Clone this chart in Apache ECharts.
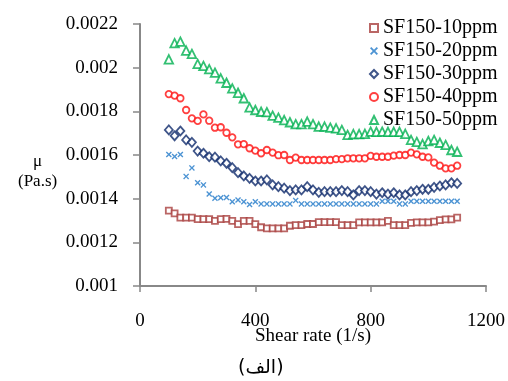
<!DOCTYPE html>
<html><head><meta charset="utf-8">
<script src="https://cdn.jsdelivr.net/npm/echarts@6/dist/echarts.min.js"></script>
<style>html,body{margin:0;padding:0;background:#fff}#c{width:508px;height:381px}</style>
</head><body><div id="c"></div>
<script>
const shearRate = [100,120,140,160,180,200,220,240,260,280,300,320,340,360,380,400,420,440,460,480,500,520,540,560,580,600,620,640,660,680,700,720,740,760,780,800,820,840,860,880,900,920,940,960,980,1000,1020,1040,1060,1080,1100];
const seriesNames = ['SF150-10ppm','SF150-20ppm','SF150-30ppm','SF150-40ppm','SF150-50ppm'];
const sf10 = [0.001345,0.001333,0.001313,0.001313,0.001313,0.001306,0.001306,0.001306,0.001298,0.001306,0.001307,0.001298,0.001283,0.001298,0.001298,0.001283,0.001269,0.001264,0.001264,0.001264,0.001264,0.001276,0.001279,0.001279,0.001284,0.001284,0.001293,0.001293,0.001293,0.001293,0.001279,0.001279,0.001279,0.001291,0.001291,0.001291,0.001291,0.001291,0.001298,0.001279,0.001279,0.001279,0.001289,0.001291,0.001291,0.001291,0.001295,0.001302,0.001305,0.001305,0.001313];
const sf20 = [0.001602,0.001593,0.001602,0.001502,0.001541,0.001473,0.001463,0.001421,0.001402,0.001404,0.001405,0.001386,0.001394,0.001386,0.001373,0.001386,0.001376,0.001376,0.001376,0.001376,0.001376,0.001376,0.001392,0.001376,0.001376,0.001376,0.001376,0.001376,0.001376,0.001376,0.001376,0.001376,0.001376,0.001376,0.001376,0.001376,0.001376,0.001388,0.001388,0.001388,0.001376,0.001376,0.001388,0.001388,0.001388,0.001388,0.001388,0.001388,0.001388,0.001388,0.001388];
const sf30 = [0.001715,0.001688,0.001710,0.001669,0.001658,0.001618,0.001608,0.001592,0.001590,0.001573,0.001562,0.001542,0.001519,0.001504,0.001493,0.001481,0.001481,0.001486,0.001463,0.001455,0.001448,0.001437,0.001440,0.001440,0.001455,0.001440,0.001429,0.001432,0.001432,0.001432,0.001437,0.001432,0.001417,0.001437,0.001437,0.001432,0.001421,0.001427,0.001421,0.001427,0.001417,0.001417,0.001432,0.001437,0.001443,0.001443,0.001452,0.001458,0.001463,0.001473,0.001470];
const sf40 = [0.001879,0.001872,0.001860,0.001806,0.001768,0.001756,0.001786,0.001757,0.001725,0.001727,0.001702,0.001681,0.001649,0.001650,0.001631,0.001620,0.001608,0.001623,0.001611,0.001599,0.001600,0.001577,0.001588,0.001577,0.001577,0.001577,0.001577,0.001577,0.001577,0.001581,0.001581,0.001585,0.001585,0.001585,0.001585,0.001596,0.001592,0.001592,0.001592,0.001597,0.001600,0.001600,0.001611,0.001603,0.001592,0.001589,0.001565,0.001551,0.001539,0.001539,0.001551];
const sf50 = [0.002038,0.002112,0.002119,0.002078,0.002063,0.002017,0.002008,0.001993,0.001977,0.001951,0.001931,0.001905,0.001885,0.001860,0.001818,0.001806,0.001798,0.001796,0.001780,0.001771,0.001760,0.001750,0.001741,0.001741,0.001753,0.001741,0.001730,0.001730,0.001725,0.001722,0.001715,0.001692,0.001696,0.001696,0.001697,0.001707,0.001706,0.001707,0.001706,0.001706,0.001706,0.001697,0.001669,0.001660,0.001650,0.001664,0.001669,0.001656,0.001646,0.001623,0.001615];
const xTicks = [0, 400, 800, 1200];
const yTicks = [0.001, 0.0012, 0.0014, 0.0016, 0.0018, 0.002, 0.0022];

const values = [sf10, sf20, sf30, sf40, sf50];
const colors = ['#a9403f', '#1f78c8', '#0f2a6b', '#ff1010', '#00b050'];
const symbols = ['rect', 'path://M0,1.6L1.6,0L5,3.4L8.4,0L10,1.6L6.6,5L10,8.4L8.4,10L5,6.6L1.6,10L0,8.4L3.4,5Z', 'diamond', 'circle', 'triangle'];
const sizes = [6, 6, [8, 9], 6.5, [8.5, 8.5]];
const hollow = [true, false, true, true, true];
const font = 'Liberation Serif';

const chart = echarts.init(document.getElementById('c'), null, {renderer: 'canvas'});
chart.setOption({
  animation: false,
  backgroundColor: '#fff',
  grid: {left: 140, right: 21, top: 24, bottom: 95, containLabel: false},
  xAxis: {
    type: 'value', min: xTicks[0], max: xTicks[xTicks.length - 1], interval: 400,
    name: 'Shear rate (1/s)', nameLocation: 'middle', nameGap: 41, nameMoveOverlap: false,
    nameTextStyle: {fontFamily: font, fontSize: 19, color: '#000', verticalAlign: 'top'},
    axisLine: {show: true, onZero: false, lineStyle: {color: '#888', width: 2}},
    axisTick: {show: true, length: 6, lineStyle: {color: '#888', width: 1.5}},
    axisLabel: {margin: 26, fontFamily: font, fontSize: 19, color: '#000',
      formatter: v => String(v)},
    splitLine: {show: false}
  },
  yAxis: {
    type: 'value', min: yTicks[0], max: yTicks[yTicks.length - 1], interval: 0.0002,
    axisLine: {show: true, onZero: false, lineStyle: {color: '#888', width: 2}},
    axisTick: {show: true, length: 7, lineStyle: {color: '#888', width: 1.5}},
    axisLabel: {margin: 22, fontFamily: font, fontSize: 19, color: '#000',
      formatter: v => String(+v.toFixed(5))},
    splitLine: {show: false}
  },
  legend: {
    orient: 'vertical', left: 364, top: 13, itemWidth: 8, itemHeight: 8, itemGap: 3,
    textStyle: {fontFamily: font, fontSize: 20, color: '#000', padding: [0, 0, 0, 0]},
    data: seriesNames
  },
  graphic: [
    {type: 'text', left: 18, top: 152, style: {text: 'μ\n(Pa.s)', font: '17px "Liberation Serif"', fill: '#000', textAlign: 'center', lineHeight: 20, x: 20}},
    {type: 'text', left: 238, top: 359, style: {text: '(الف)', font: '19px "DejaVu Sans"', fill: '#000'}}
  ],
  series: seriesNames.map((name, k) => ({
    name: name,
    type: 'scatter',
    symbol: symbols[k],
    symbolSize: sizes[k],
    itemStyle: hollow[k]
      ? {color: '#fff', borderColor: colors[k], borderWidth: 1.8}
      : {color: colors[k]},
    data: shearRate.map((x, i) => [x, values[k][i]])
  }))
});
</script></body></html>
